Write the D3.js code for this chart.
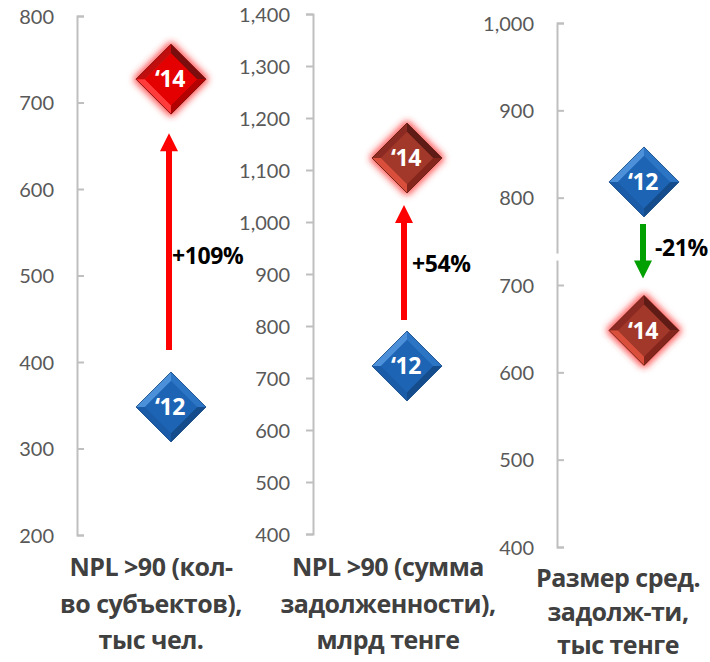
<!DOCTYPE html>
<html>
<head>
<meta charset="utf-8">
<script src="https://cdn.jsdelivr.net/npm/d3@7"></script>
<style>
  body { margin: 0; background: #fff; }
  svg { display: block; }
  .tick text { font-family: Lato, "Open Sans", sans-serif; font-size: 20px; fill: #595959; }
  .cat { font-family: "Open Sans", Lato, sans-serif; font-weight: bold; font-size: 25px; letter-spacing: -0.5px; fill: #404040; }
  .chg { font-family: "Open Sans", Lato, sans-serif; font-weight: bold; font-size: 23px; letter-spacing: -0.4px; fill: #000; }
  .yr { font-family: "Open Sans", Lato, sans-serif; font-weight: bold; font-size: 23px; letter-spacing: -0.5px; fill: #fff; }
</style>
</head>
<body>
<div id="chart"></div>
<script>
// data
const categoryLines = [
  ["NPL >90 (кол-", "во субъектов),", "тыс чел."],
  ["NPL >90 (сумма", "задолженности),", "млрд тенге"],
  ["Размер сред.", "задолж-ти,", "тыс тенге"],
];
const values2012 = [348, 723, 818];
const values2014 = [727, 1123, 648];
const changeLabels = ["+109%", "+54%", "-21%"];
const yDomains = [[200, 800], [400, 1400], [400, 1000]];
const tickValues = [
  [200, 300, 400, 500, 600, 700, 800],
  [400, 500, 600, 700, 800, 900, 1000, 1100, 1200, 1300, 1400],
  [400, 500, 600, 700, 800, 900, 1000],
];
const yearLabels = ["‘12", "‘14"];

// layout (positions only)
const layout = [
  { axisX: 77, range: [535, 16], side: "right", markX: 171, arrowX: 169, gap: [57, 54], lblDx: 3, lblDy: 14, catX: 151, catY: [567, 604, 640], red: "bright" },
  { axisX: 313, range: [534, 14], side: "left", markX: 407, arrowX: 404, gap: [46, 47], lblDx: 8, lblDy: 1, catX: 388, catY: [567, 604, 640], red: "dark" },
  { axisX: 557, range: [547, 23], side: "right", markX: 644, arrowX: 643, gap: [42, 52], lblDx: 12, lblDy: -3, catX: 618, catY: [578, 612, 645], red: "dark", breakAt: [736, 728] },
];

const W = 710, H = 662;
const svg = d3.select("#chart").append("svg").attr("width", W).attr("height", H);
const defs = svg.append("defs");

const glow = defs.append("filter").attr("id", "glow")
  .attr("x", "-40%").attr("y", "-40%").attr("width", "180%").attr("height", "180%");
glow.append("feMorphology").attr("in", "SourceAlpha").attr("operator", "dilate").attr("radius", 2).attr("result", "d");
glow.append("feGaussianBlur").attr("in", "d").attr("stdDeviation", 3).attr("result", "b");
glow.append("feFlood").attr("flood-color", "#ff3030").attr("flood-opacity", 0.75);
glow.append("feComposite").attr("in2", "b").attr("operator", "in").attr("result", "g");
const gm = glow.append("feMerge");
gm.append("feMergeNode").attr("in", "g");
gm.append("feMergeNode").attr("in", "SourceGraphic");

const palettes = {
  blue: { flat: "#1e64b4", tl: "#4d90da", tr: "#2c74c4", br: "#154c8c", bl: "#1b5ca8", edge: "#174a86" },
  bright: { flat: "#e40000", tl: "#c01010", tr: "#7a0a0a", br: "#b30000", bl: "#ff3a3a", edge: "#6a0a0a" },
  dark: { flat: "#a2372b", tl: "#8a2a20", tr: "#5e1a12", br: "#85281f", bl: "#d9503a", edge: "#5a1a12" },
};

function diamond(g, cx, cy, pal, label, withGlow) {
  const R = 35, r = 26;
  const grp = g.append("g").attr("transform", `translate(${cx},${cy})`);
  const body = grp.append("g").attr("filter", withGlow ? "url(#glow)" : null);
  const o = [[0, -R], [R, 0], [0, R], [-R, 0]];
  const i = [[0, -r], [r, 0], [0, r], [-r, 0]];
  const facet = (a, b) => [o[a], o[b], i[b], i[a]];
  body.append("polygon").attr("points", o.join(" ")).attr("fill", pal.flat);
  [[3, 0, pal.tl], [0, 1, pal.tr], [1, 2, pal.br], [2, 3, pal.bl]].forEach(([a, b, c]) => {
    body.append("polygon").attr("points", facet(a, b).join(" ")).attr("fill", c);
  });
  body.append("polygon").attr("points", i.join(" ")).attr("fill", pal.flat);
  body.append("polygon").attr("points", o.join(" ")).attr("fill", "none")
    .attr("stroke", pal.edge).attr("stroke-width", 0.8);
  grp.append("text").attr("class", "yr").attr("text-anchor", "middle")
    .attr("dy", "0.36em").attr("x", -1).text(label);
}

function arrow(g, x, y0, y1, color) {
  const dir = y1 < y0 ? -1 : 1;
  const head = 18, hw = 9, sw = 3;
  const yb = y1 - dir * head;
  const pts = [[x - sw, y0], [x - sw, yb], [x - hw, yb], [x, y1], [x + hw, yb], [x + sw, yb], [x + sw, y0]];
  g.append("polygon").attr("points", pts.join(" ")).attr("fill", color);
}

layout.forEach((L, k) => {
  const y = d3.scaleLinear().domain(yDomains[k]).range(L.range);
  const axis = (L.side === "right" ? d3.axisRight(y) : d3.axisLeft(y))
    .tickValues(tickValues[k]).tickSize(7).tickSizeOuter(7)
    .tickFormat(d3.format(","));
  const ag = svg.append("g").attr("transform", `translate(${L.axisX},0)`).call(axis);
  ag.selectAll("path, line").attr("stroke", "#bfbfbf").attr("stroke-width", 2);
  ag.selectAll("text").attr("x", -23).attr("text-anchor", "end").attr("dy", "0.35em");

  if (L.breakAt) {
    svg.append("rect").attr("x", L.axisX - 3).attr("width", 6)
      .attr("y", y(L.breakAt[0])).attr("height", y(L.breakAt[1]) - y(L.breakAt[0]))
      .attr("fill", "#fff");
  }

  const y12 = y(values2012[k]), y14 = y(values2014[k]);
  const up = values2014[k] > values2012[k];
  const a0 = up ? y12 - L.gap[0] : y12 + L.gap[0];
  const a1 = up ? y14 + L.gap[1] : y14 - L.gap[1];
  arrow(svg, L.arrowX, a0, a1, up ? "#ff0000" : "#00a000");

  svg.append("text").attr("class", "chg")
    .attr("x", L.arrowX + L.lblDx).attr("y", (a0 + a1) / 2 + L.lblDy)
    .attr("dy", "0.35em").text(changeLabels[k]);

  diamond(svg, L.markX, y12, palettes.blue, yearLabels[0], false);
  diamond(svg, L.markX, y14, palettes[L.red], yearLabels[1], true);

  categoryLines[k].forEach((line, j) => {
    svg.append("text").attr("class", "cat").attr("text-anchor", "middle")
      .attr("x", L.catX).attr("y", L.catY[j]).attr("dy", "0.35em").text(line);
  });
});
</script>
</body>
</html>
